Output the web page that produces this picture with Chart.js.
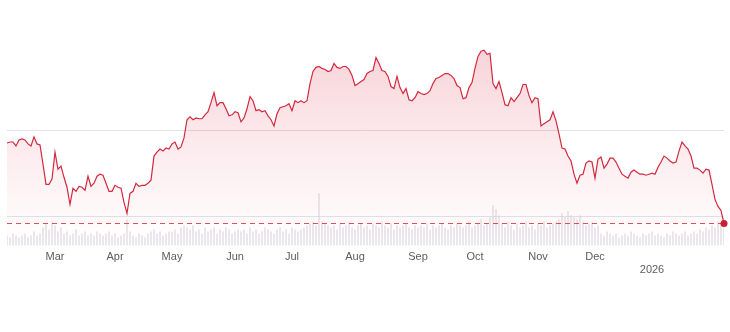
<!DOCTYPE html>
<html>
<head>
<meta charset="utf-8">
<script src="https://cdn.jsdelivr.net/npm/chart.js@4.4.1/dist/chart.umd.min.js"></script>
<style>
  html, body { margin: 0; padding: 0; background: #fff; }
  #wrap { width: 730px; height: 332px; }
</style>
</head>
<body>
<div id="wrap"><canvas id="priceChart"></canvas></div>
<script>
// closing price per trading day
const prices = [
    242.9, 243.5, 243.5, 241.2, 244.7, 245.3, 244.7, 242.4, 241.2, 246.5,
    242.4, 241.8, 230.6, 218.8, 218.8, 221.8, 237.6, 227.6, 229.4, 222.9,
    217.1, 207.1, 216.5, 214.7, 217.6, 217.1, 215.3, 223.5, 217.6, 219.4,
    223.5, 224.7, 224.1, 219.4, 214.7, 214.7, 218.2, 217.1, 216.5, 208.2,
    201.8, 213.5, 214.7, 219.4, 217.6, 218.2, 218.2, 219.4, 221.2, 235.3,
    237.6, 239.4, 238.2, 240.0, 239.4, 242.4, 243.5, 239.4, 240.6, 245.9,
    256.5, 258.2, 256.5, 257.6, 257.1, 257.1, 259.4, 261.2, 266.5, 272.4,
    264.7, 266.5, 266.5, 262.9, 258.8, 259.4, 261.2, 260.6, 255.3, 257.6,
    262.9, 270.0, 267.6, 261.8, 262.4, 261.2, 261.8, 258.8, 256.5, 252.9,
    260.0, 263.5, 264.1, 264.7, 265.9, 261.8, 267.6, 266.5, 267.6, 266.5,
    267.6, 277.6, 284.7, 287.1, 287.6, 286.5, 285.9, 284.7, 285.3, 289.4,
    287.1, 286.5, 287.6, 287.6, 285.9, 282.4, 276.5, 277.6, 278.8, 280.0,
    283.5, 284.7, 285.3, 292.9, 289.4, 285.3, 284.7, 281.8, 275.9, 274.7,
    281.8, 275.3, 271.8, 274.7, 268.2, 267.6, 269.4, 272.9, 271.8, 271.2,
    271.8, 273.5, 277.6, 280.6, 281.2, 282.4, 283.5, 283.5, 282.4, 280.6,
    276.5, 275.3, 268.8, 269.4, 275.3, 278.2, 286.5, 293.5, 296.5, 297.1,
    294.7, 295.3, 277.6, 274.7, 278.8, 272.4, 265.3, 264.7, 269.4, 267.1,
    269.4, 271.8, 277.1, 277.1, 270.6, 266.5, 269.4, 268.8, 252.9, 254.1,
    255.3, 256.5, 261.2, 255.9, 248.2, 240.0, 239.4, 235.3, 232.4, 224.7,
    219.4, 224.1, 224.7, 231.2, 232.4, 231.8, 222.4, 233.5, 234.7, 228.2,
    230.6, 234.1, 234.1, 231.8, 228.2, 224.7, 223.5, 222.4, 225.9, 227.1,
    225.9, 224.7, 224.7, 224.1, 224.7, 225.3, 224.7, 228.8, 231.8, 235.3,
    234.1, 232.4, 231.2, 231.8, 238.2, 243.5, 241.2, 239.4, 235.3, 228.2,
    228.2, 227.1, 225.3, 227.6, 227.1, 218.8, 210.0, 205.9, 203.5, 195.9
];

// traded volume per day (millions)
const volumes = [
    5, 4, 6, 5, 4, 5, 6, 4, 5, 7, 5, 6,
    9, 11, 8, 12, 10, 7, 9,
    6, 7, 5, 6, 8, 5, 6, 7, 5, 6, 5, 7, 6, 5, 6, 7,
    5, 6, 4, 5, 6, 13, 7,
    5, 4, 6, 5, 4, 6, 7, 8, 6, 7, 5, 6, 7,
    7, 8, 6, 9, 10, 9, 8, 10, 7, 8, 6, 9, 7, 8, 9, 6, 8, 7, 9, 8, 6, 7, 8,
    7, 8, 6, 9, 7, 8, 6, 7, 9, 8, 7, 6, 8, 9, 7, 8, 6, 9, 8, 7, 8, 9, 10,
    11, 12, 10, 26, 12, 11, 10,
    9, 10, 8, 11, 9, 10, 12, 9, 8, 10, 11, 9, 10, 8, 11, 10, 9, 12, 10, 9, 11, 8, 10, 9, 10, 11, 9, 8, 10, 9,
    10, 9, 11, 8, 10, 9, 10, 11, 9, 8, 10, 9, 11, 10, 9, 10, 12, 9, 10, 11, 13, 10, 11, 14,
    20, 18, 15,
    11, 9, 12, 10, 8, 11, 9, 10, 12, 9, 10, 8, 11, 10, 12, 9, 10, 11, 12, 13,
    16, 14, 17, 15, 14, 13, 15,
    12, 10, 11, 12, 9, 10,
    6, 5, 7, 6, 5, 6, 4, 5, 6, 5, 7, 6, 5, 4, 6, 5, 6, 7, 5, 6, 5, 4, 6, 5, 7, 6, 5, 6, 7, 5, 6, 7, 6, 8,
    7, 9, 8, 10, 9, 12, 11, 10
];

// first trading day of each month (index) and its label
const monthStarts = [16, 36, 55, 76, 95, 116, 137, 156, 177, 196, 215];
const monthLabels = ['Mar', 'Apr', 'May', 'Jun', 'Jul', 'Aug', 'Sep', 'Oct', 'Nov', 'Dec', ['', '2026']];

const gridValues = [200, 250];

const lastIndex = prices.length - 1;
const lastPrice = prices[lastIndex];

const priceData = prices.map((p, i) => ({ x: i, y: p }));
const volumeData = volumes.map((v, i) => ({ x: i, y: v }));

function fillGradient(context) {
    const { ctx, chartArea } = context.chart;
    if (!chartArea) return 'rgba(220,40,60,0.1)';
    const g = ctx.createLinearGradient(0, chartArea.top, 0, chartArea.bottom);
    g.addColorStop(0, 'rgba(222,45,70,0.24)');
    g.addColorStop(0.5, 'rgba(222,45,70,0.11)');
    g.addColorStop(1, 'rgba(222,45,70,0.0)');
    return g;
}

const ctx = document.getElementById('priceChart').getContext('2d');

new Chart(ctx, {
    type: 'line',
    data: {
        datasets: [
            {
                type: 'line',
                data: [{ x: lastIndex, y: lastPrice }],
                showLine: false,
                pointRadius: 3.5,
                pointBackgroundColor: '#cc1f36',
                pointBorderWidth: 0,
                clip: false,
                order: 0
            },
            {
                type: 'line',
                data: [{ x: 0, y: lastPrice }, { x: lastIndex, y: lastPrice }],
                borderColor: 'rgba(214,50,60,0.85)',
                borderWidth: 1,
                borderDash: [5, 4],
                pointRadius: 0,
                fill: false,
                order: 1
            },
            {
                type: 'line',
                data: priceData,
                borderColor: '#d3293f',
                borderWidth: 1.2,
                pointRadius: 0,
                tension: 0,
                fill: 'start',
                backgroundColor: fillGradient,
                order: 2
            },
            {
                type: 'bar',
                data: volumeData,
                yAxisID: 'yVol',
                backgroundColor: 'rgba(208,208,215,0.5)',
                barPercentage: 0.6,
                categoryPercentage: 1,
                order: 3
            }
        ]
    },
    options: {
        responsive: true,
        maintainAspectRatio: false,
        animation: false,
        layout: { padding: { left: 7, right: 6, top: 19.6, bottom: 50 } },
        plugins: {
            legend: { display: false },
            tooltip: { enabled: false }
        },
        scales: {
            x: {
                type: 'linear',
                min: 0,
                max: lastIndex,
                offset: false,
                grid: { display: false, drawTicks: false },
                border: { display: false },
                afterBuildTicks: (scale) => {
                    scale.ticks = monthStarts.map(v => ({ value: v }));
                },
                ticks: {
                    autoSkip: false,
                    maxRotation: 0,
                    padding: 5,
                    color: '#5c5c5c',
                    font: { family: 'Liberation Sans, Arial, sans-serif', size: 11 },
                    callback: (value) => {
                        const k = monthStarts.indexOf(value);
                        return k >= 0 ? monthLabels[k] : '';
                    }
                }
            },
            y: {
                min: 183,
                max: 315,
                afterBuildTicks: (scale) => {
                    scale.ticks = gridValues.map(v => ({ value: v }));
                },
                ticks: { display: false },
                border: { display: false },
                grid: { color: '#e3e3e3', lineWidth: 1, drawTicks: false }
            },
            yVol: {
                display: false,
                min: 0,
                max: 112
            }
        }
    }
});
</script>
</body>
</html>
